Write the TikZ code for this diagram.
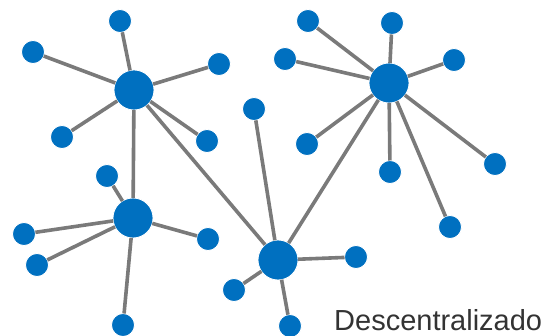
\documentclass[tikz,border=0pt]{standalone}
\usepackage{fontspec}
\newfontfamily\labelfont{Liberation Sans}
\definecolor{netblue}{RGB}{0,112,192}
\definecolor{linkgray}{RGB}{122,122,122}
\definecolor{textgray}{RGB}{51,51,51}

\begin{document}
\begin{tikzpicture}[x=1pt,y=-1pt,
        hub/.style={circle,fill=netblue,draw=white,line width=0.8pt,minimum size=40pt,inner sep=0pt,outer sep=0pt},
        leaf/.style={circle,fill=netblue,draw=white,line width=0.8pt,minimum size=23pt,inner sep=0pt,outer sep=0pt},
        link/.style={linkgray,line width=3.6pt}]
        \useasboundingbox (0,0) rectangle (554,336);
        % hubs
        \node[hub] (A) at (134,90) {};
        \node[hub] (B) at (389,83) {};
        \node[hub] (C) at (133,218) {};
        \node[hub] (D) at (278,260) {};
        % leaves of each hub
        \foreach \n/\x/\y in {a1/120/21, a2/33/52, a3/219/64, a4/62/137, a5/207/141,
                              b1/308/21, b2/392/23, b3/285/59, b4/454/60, b5/307/144, b6/390/172, b7/495/164, b8/450/227,
                              c1/107/176, c2/24/234, c3/37/265, c4/208/239, c5/123/325,
                              d1/254/109, d2/356/257, d3/234/290, d4/290/326}
            \node[leaf] (\n) at (\x,\y) {};
        \foreach \i in {1,...,5} \draw[link] (A) -- (a\i);
        \foreach \i in {1,...,8} \draw[link] (B) -- (b\i);
        \foreach \i in {1,...,5} \draw[link] (C) -- (c\i);
        \foreach \i in {1,...,4} \draw[link] (D) -- (d\i);
        % links between hubs
        \draw[link] (A) -- (C);
        \draw[link] (A) -- (D);
        \draw[link] (B) -- (D);
        \node[anchor=base west,inner sep=0pt,text=textgray,font=\labelfont\fontsize{29}{34}\selectfont] (title) at (334,331) {Descentralizado};
    \end{tikzpicture}
\end{document}
